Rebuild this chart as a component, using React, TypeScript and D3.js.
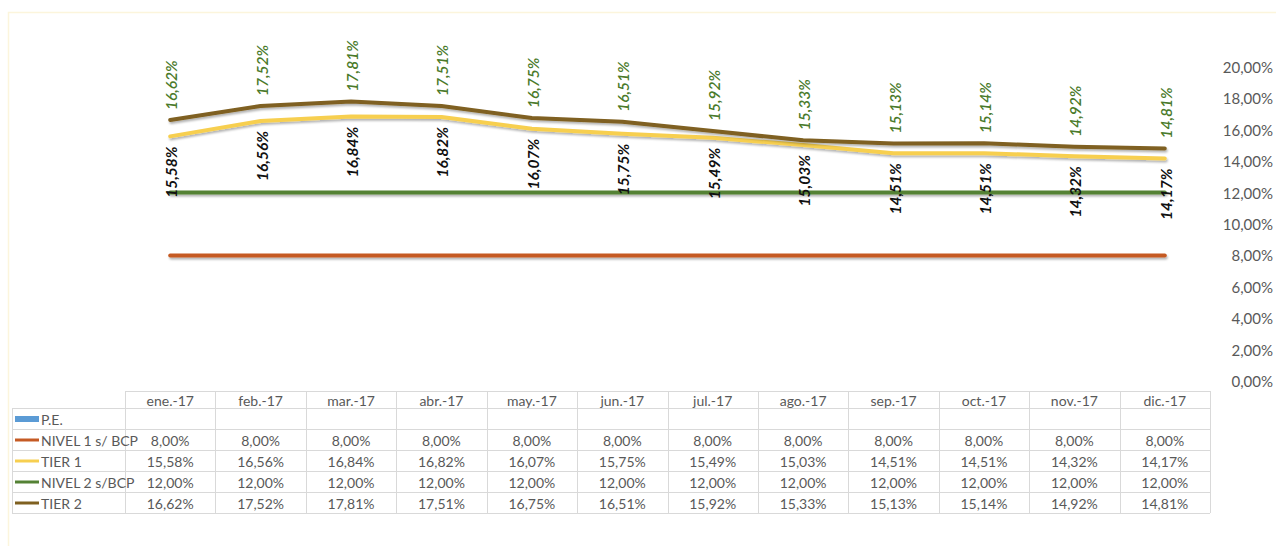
import React from "react";
import * as d3 from "d3";

const months = ["ene.-17", "feb.-17", "mar.-17", "abr.-17", "may.-17", "jun.-17", "jul.-17", "ago.-17", "sep.-17", "oct.-17", "nov.-17", "dic.-17"];
const nivel1 = [8, 8, 8, 8, 8, 8, 8, 8, 8, 8, 8, 8];
const tier1 = [15.58, 16.56, 16.84, 16.82, 16.07, 15.75, 15.49, 15.03, 14.51, 14.51, 14.32, 14.17];
const nivel2 = [12, 12, 12, 12, 12, 12, 12, 12, 12, 12, 12, 12];
const tier2 = [16.62, 17.52, 17.81, 17.51, 16.75, 16.51, 15.92, 15.33, 15.13, 15.14, 14.92, 14.81];
const yTicks = [0, 2, 4, 6, 8, 10, 12, 14, 16, 18, 20];

const seriesNames = ["P.E.", "NIVEL 1 s/ BCP", "TIER 1", "NIVEL 2 s/BCP", "TIER 2"];
const seriesColors = ["#5b9bd5", "#c55a24", "#f7cf50", "#548235", "#7f6020"];

const W = 1276;
const H = 546;
const FONT = "Lato, 'Open Sans', sans-serif";
const TEXT = "#595959";
const GRID = "#d9d9d9";

const fmt = (v: number) => d3.format(".2f")(v).replace(".", ",") + "%";

export default function App() {
  const x = d3.scaleBand<string>().domain(months).range([125, 1210]);
  const bw = x.bandwidth();
  const cx = (m: string) => (x(m) as number) + bw / 2;
  const y = d3.scaleLinear().domain([0, 20]).range([381, 67]);

  const line = d3
    .line<number>()
    .x((_, i) => cx(months[i]))
    .y((d) => y(d));

  const lineSeries = [nivel1, tier1, nivel2, tier2];
  const tableRows: (number[] | null)[] = [null, nivel1, tier1, nivel2, tier2];

  const tableLeft = 12;
  const tableRight = 1210;
  const headerTop = 391;
  const headerBottom = 408;
  const rowH = 21;
  const rowTops = tableRows.map((_, i) => headerBottom + i * rowH);
  const tableBottom = headerBottom + tableRows.length * rowH;

  return (
    <svg
      width={W}
      height={H}
      style={{ position: "absolute", left: 0, top: 0, background: "#fff" }}
    >
      <defs>
        <filter id="sh" filterUnits="userSpaceOnUse" x={0} y={0} width={W} height={H}>
          <feDropShadow dx="1" dy="2" stdDeviation="1" floodColor="#000" floodOpacity="0.3" />
        </filter>
      </defs>
      <rect x={0} y={0} width={W} height={H} fill="#fff" />
      <rect x={8.5} y={12.5} width={W} height={H} fill="none" stroke="#fcf5dc" strokeWidth={1.5} />

      {yTicks.map((t) => (
        <text
          key={t}
          x={1273}
          y={y(t)}
          textAnchor="end"
          dominantBaseline="central"
          fontFamily={FONT}
          fontSize={15}
          fill={TEXT}
        >
          {d3.format(".2f")(t).replace(".", ",")}%
        </text>
      ))}

      {lineSeries.map((s, i) => (
        <path
          key={i}
          d={line(s) || ""}
          fill="none"
          stroke={seriesColors[i + 1]}
          strokeWidth={4}
          strokeLinecap="round"
          strokeLinejoin="round"
          filter="url(#sh)"
        />
      ))}

      {tier2.map((v, i) => {
        const px = cx(months[i]) + 1;
        const py = y(v) - 10;
        return (
          <text
            key={"t2" + i}
            transform={`translate(${px},${py}) rotate(-90)`}
            textAnchor="start"
            dominantBaseline="central"
            fontFamily={FONT}
            fontStyle="italic"
            fontWeight={600}
            fontSize={15.5}
            fill="#4a7a2a"
          >
            {fmt(v)}
          </text>
        );
      })}

      {tier1.map((v, i) => {
        const px = cx(months[i]) + 1;
        const py = y(v) + 10;
        return (
          <text
            key={"t1" + i}
            transform={`translate(${px},${py}) rotate(-90)`}
            textAnchor="end"
            dominantBaseline="central"
            fontFamily={FONT}
            fontStyle="italic"
            fontWeight="bold"
            fontSize={15.5}
            fill="#111"
          >
            {fmt(v)}
          </text>
        );
      })}

      <g shapeRendering="crispEdges">
        <line x1={125} x2={tableRight} y1={headerTop + 0.5} y2={headerTop + 0.5} stroke={GRID} />
        {rowTops.map((t, i) => (
          <line key={"h" + i} x1={tableLeft} x2={tableRight} y1={t + 0.5} y2={t + 0.5} stroke={GRID} />
        ))}
        <line x1={tableLeft} x2={tableRight} y1={tableBottom + 0.5} y2={tableBottom + 0.5} stroke={GRID} />
        <line x1={tableLeft + 0.5} x2={tableLeft + 0.5} y1={headerBottom} y2={tableBottom} stroke={GRID} />
        {months.map((m) => (
          <line
            key={"v" + m}
            x1={(x(m) as number) + 0.5}
            x2={(x(m) as number) + 0.5}
            y1={headerTop}
            y2={tableBottom}
            stroke={GRID}
          />
        ))}
        <line x1={tableRight + 0.5} x2={tableRight + 0.5} y1={headerTop} y2={tableBottom} stroke={GRID} />
      </g>

      {months.map((m) => (
        <text
          key={"hl" + m}
          x={cx(m)}
          y={(headerTop + headerBottom) / 2 + 1}
          textAnchor="middle"
          dominantBaseline="central"
          fontFamily={FONT}
          fontSize={14}
          fill={TEXT}
        >
          {m}
        </text>
      ))}

      {tableRows.map((row, ri) => {
        const top = rowTops[ri];
        const mid = top + rowH / 2 + 0.5;
        return (
          <g key={"r" + ri}>
            {ri === 0 ? (
              <rect x={15} y={mid - 3} width={24} height={6} fill={seriesColors[0]} />
            ) : (
              <line x1={15} x2={39} y1={mid} y2={mid} stroke={seriesColors[ri]} strokeWidth={3} />
            )}
            <text
              x={41}
              y={mid}
              dominantBaseline="central"
              fontFamily={FONT}
              fontSize={14}
              fill={TEXT}
            >
              {seriesNames[ri]}
            </text>
            {row &&
              row.map((v, ci) => (
                <text
                  key={ci}
                  x={cx(months[ci])}
                  y={mid}
                  textAnchor="middle"
                  dominantBaseline="central"
                  fontFamily={FONT}
                  fontSize={14}
                  fill={TEXT}
                >
                  {fmt(v)}
                </text>
              ))}
          </g>
        );
      })}
    </svg>
  );
}
